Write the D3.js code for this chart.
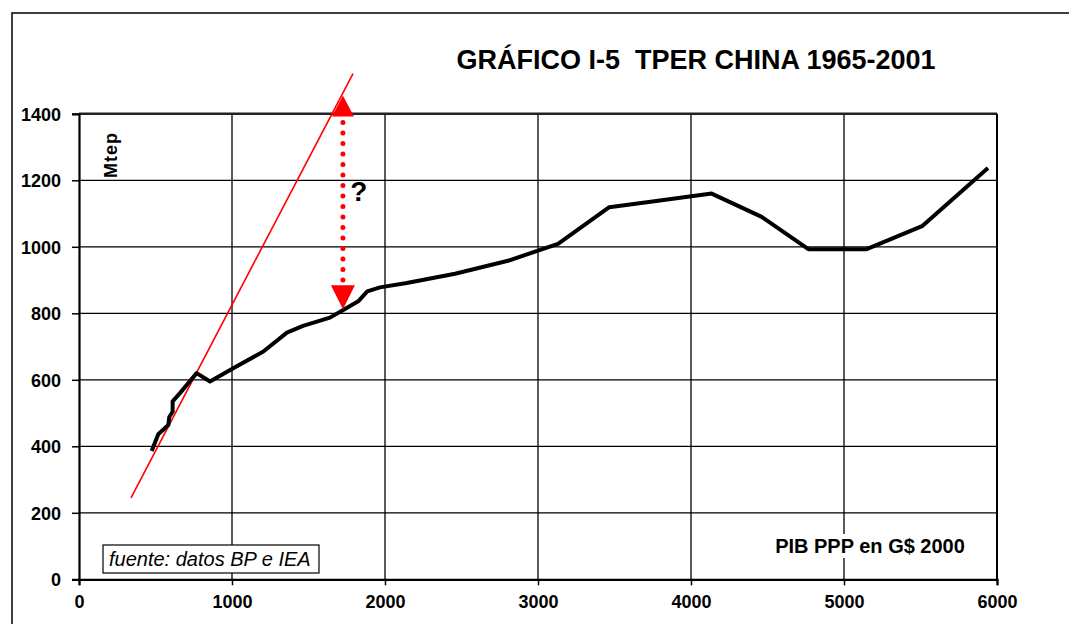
<!DOCTYPE html>
<html><head><meta charset="utf-8">
<script src="https://cdn.jsdelivr.net/npm/d3@7"></script>
<style>body{margin:0;background:#fff}svg{display:block}text{font-family:Arial,"Liberation Sans",sans-serif}</style>
</head><body>
<script>
const title = "GRÁFICO I-5  TPER CHINA 1965-2001";
const xTicks = [0,1000,2000,3000,4000,5000,6000];
const yTicks = [0,200,400,600,800,1000,1200,1400];
const gdp = [475,518,584,590,612,612,660,769,856,1008,1205,1359,1464,1640,1727,1825,1884,1967,2142,2458,2804,3131,3466,3797,4135,4462,4767,5148,5514,5941];
const tper = [386,436,464,488,504,535,560,620,595,635,685,742,762,787,810,836,866,878,891,919,958,1009,1119,1139,1160,1090,993,993,1063,1237];
const trendX = [340,1791];
const trendY = [245,1521];
const gapX = 1725;
const gapY = [812,1455];

const W=1069,H=624;
const svg=d3.select("body").append("svg").attr("width",W).attr("height",H);
const x=d3.scaleLinear().domain([0,6000]).range([79,997]);
const y=d3.scaleLinear().domain([0,1400]).range([579.3,113.8]);

// outer frame
svg.append("rect").attr("x",12).attr("y",13).attr("width",W).attr("height",H).attr("fill","none").attr("stroke","#000").attr("stroke-width",1.5);

// grid
const g=svg.append("g");
g.selectAll(".hg").data(yTicks.slice(1,-1)).join("line").attr("x1",x(0)).attr("x2",x(6000)).attr("y1",d=>y(d)).attr("y2",d=>y(d)).attr("stroke","#000").attr("stroke-width",1.3);
g.selectAll(".vg").data(xTicks.slice(1,-1)).join("line").attr("y1",y(0)).attr("y2",y(1400)).attr("x1",d=>x(d)).attr("x2",d=>x(d)).attr("stroke","#000").attr("stroke-width",1.3);
// frame of plot
svg.append("line").attr("x1",x(0)).attr("x2",x(6000)).attr("y1",y(1400)).attr("y2",y(1400)).attr("stroke","#222").attr("stroke-width",2.5);
svg.append("line").attr("x1",x(6000)).attr("x2",x(6000)).attr("y1",y(0)).attr("y2",y(1400)).attr("stroke","#000").attr("stroke-width",2);

// labels layer (white-backed)
const lab=svg.append("g");
const pib=lab.append("text").attr("x",870).attr("y",553).text("PIB PPP en G$ 2000").attr("fill","#000")
  .style("font-size","20px").style("font-weight","bold").attr("text-anchor","middle");
const pb=pib.node().getBBox();
lab.insert("rect",()=>pib.node()).attr("x",pb.x-4).attr("y",pb.y-1).attr("width",pb.width+8).attr("height",pb.height+2).attr("fill","#fff");
// fuente box
lab.append("rect").attr("x",103).attr("y",545).attr("width",216).attr("height",28).attr("fill","#fff").attr("stroke","#000").attr("stroke-width",1.2);
lab.append("text").attr("x",109).attr("y",566).text("fuente: datos BP e IEA").attr("fill","#000").style("font-size","20px").style("font-style","italic");
// Mtep
lab.append("text").attr("transform","translate(117,155) rotate(-90)").text("Mtep").attr("fill","#000")
  .attr("text-anchor","middle").style("font-size","18px").style("font-weight","bold").style("letter-spacing","1px");

// axes
const xa=svg.append("g").attr("transform",`translate(0,${y(0)})`).call(d3.axisBottom(x).tickValues(xTicks).tickSize(6).tickPadding(10).tickFormat(d3.format("d")));
const ya=svg.append("g").attr("transform",`translate(${x(0)},0)`).call(d3.axisLeft(y).tickValues(yTicks).tickSize(7).tickPadding(11).tickFormat(d3.format("d")));
[xa,ya].forEach(a=>{a.select(".domain").attr("stroke","#000").attr("stroke-width",2.2);
 a.selectAll(".tick line").attr("stroke","#000").attr("stroke-width",1.5);
 a.selectAll(".tick text").attr("fill","#000").style("font-size","18px").style("font-weight","bold").style("font-family","Arial, 'Liberation Sans', sans-serif");});
ya.selectAll(".tick text").attr("dy","0.35em");
xa.selectAll(".tick text").attr("dy","0.71em");

// trend line
svg.append("line").attr("x1",x(trendX[0])).attr("y1",y(trendY[0])).attr("x2",x(trendX[1])).attr("y2",y(trendY[1])).attr("stroke","#ff0000").attr("stroke-width",1.6);

// data line
svg.append("path").datum(gdp.map((d,i)=>[d,tper[i]]))
 .attr("d",d3.line().x(d=>x(d[0])).y(d=>y(d[1])))
 .attr("fill","none").attr("stroke","#000").attr("stroke-width",4).attr("stroke-linejoin","round");

// gap arrow
const ax=x(gapX), yb=y(gapY[0]), yt=y(gapY[1]);
svg.append("line").attr("x1",ax).attr("x2",ax).attr("y1",yt+27).attr("y2",yb-29)
 .attr("stroke","#ff0000").attr("stroke-width",5).attr("stroke-linecap","round").attr("stroke-dasharray","0 10.5");
svg.append("path").attr("d",`M${ax},${yt} L${ax-11},${yt+21} L${ax+11},${yt+21} Z`).attr("fill","#ff0000");
svg.append("path").attr("d",`M${ax},${yb} L${ax-12},${yb-24} L${ax+12},${yb-24} Z`).attr("fill","#ff0000");
svg.append("text").attr("x",ax+16).attr("y",201).text("?").attr("fill","#000").style("font-size","28px").style("font-weight","bold").attr("text-anchor","middle");

// title
svg.append("text").attr("x",696).attr("y",69).text(title).attr("fill","#000").attr("text-anchor","middle")
  .style("white-space","pre").attr("xml:space","preserve").style("font-size","27px").style("font-weight","bold");
</script>
</body></html>
